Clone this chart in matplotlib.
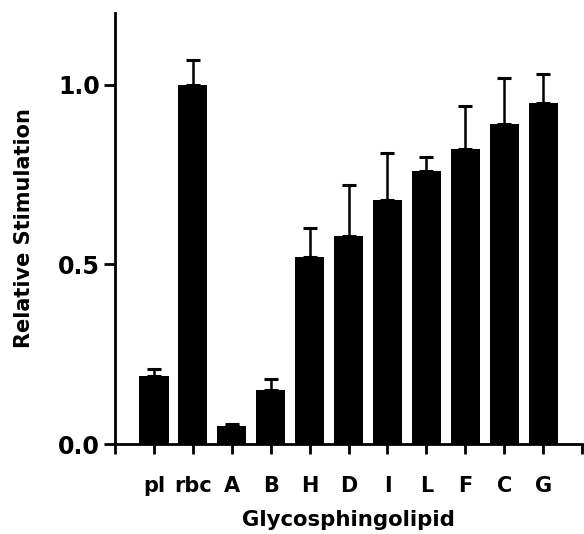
import numpy as np
import matplotlib
matplotlib.use("Agg")
import matplotlib.pyplot as plt

# values
labels = ["pl", "rbc", "A", "B", "H", "D", "I", "L", "F", "C", "G"]
means = [0.19, 1.00, 0.05, 0.15, 0.52, 0.58, 0.68, 0.76, 0.82, 0.89, 0.95]
upper = [0.21, 1.07, 0.056, 0.18, 0.60, 0.72, 0.81, 0.80, 0.94, 1.02, 1.03]

errs = [u - m for u, m in zip(upper, means)]
x = np.arange(len(labels))

plt.rcParams['font.family'] = ['DejaVu Sans']
plt.rcParams['font.weight'] = 'bold'

fig = plt.figure(figsize=(5.84, 5.34), dpi=100)
ax = fig.add_axes([0.197, 0.1685, 0.7996, 0.8072])

ax.bar(x, means, width=0.75, color='black',
       yerr=[np.zeros(len(errs)), errs],
       error_kw=dict(ecolor='black', elinewidth=1.8, capsize=5, capthick=2.2))

ax.set_xlim(-1, 11)
ax.set_ylim(0, 1.2)
ax.set_yticks([0.0, 0.5, 1.0])
ax.set_yticklabels(["0.0", "0.5", "1.0"], fontsize=17, fontweight='bold')
ax.set_xticks(np.arange(-1, 12))
ax.set_xticklabels([""] + labels + [""], fontsize=15, fontweight='bold')

for side in ['top', 'right']:
    ax.spines[side].set_visible(False)
for side in ['left', 'bottom']:
    ax.spines[side].set_linewidth(2)

ax.tick_params(axis='y', direction='out', length=8, width=2, pad=3)
ax.tick_params(axis='x', direction='out', length=7, width=2, pad=16)

ax.set_ylabel("Relative Stimulation", fontsize=15, fontweight='bold', labelpad=17)
ax.set_xlabel("Glycosphingolipid", fontsize=15.3, fontweight='bold', labelpad=10)

fig.savefig("out.png", dpi=100)
